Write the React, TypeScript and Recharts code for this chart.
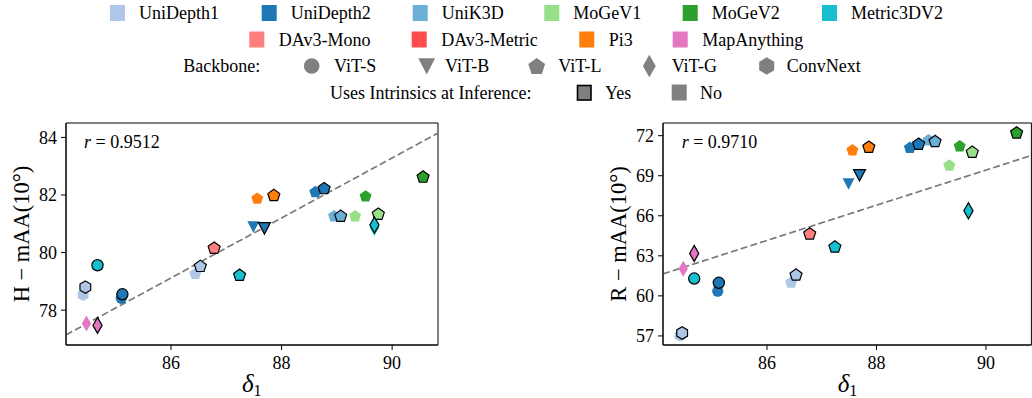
import React from 'react';
import { ScatterChart, Scatter, XAxis, YAxis, ReferenceLine, ReferenceArea } from 'recharts';

const FONT = '"Liberation Serif", "Times New Roman", serif';

const modelNames = ['UniDepth1', 'UniDepth2', 'UniK3D', 'MoGeV1', 'MoGeV2', 'Metric3DV2', 'DAv3-Mono', 'DAv3-Metric', 'Pi3', 'MapAnything'];
const modelColors = ['#aec7e8', '#1f77b4', '#6baed6', '#98df8a', '#2ca02c', '#17becf', '#ff7f7f', '#ff4c4c', '#ff7f0e', '#e377c2'];
const backbones = ['ViT-S', 'ViT-B', 'ViT-L', 'ViT-G', 'ConvNext'];

// one entry per model run; "No" runs are drawn first, "Yes" runs (black edge) on top
const pointModel = [
  'UniDepth1', 'UniDepth1', 'UniDepth2', 'MapAnything', 'UniDepth2', 'Pi3', 'UniDepth2', 'UniK3D', 'MoGeV1', 'MoGeV2', 'Metric3DV2',
  'UniDepth1', 'UniDepth1', 'Metric3DV2', 'UniDepth2', 'MapAnything', 'DAv3-Mono', 'Metric3DV2', 'UniDepth2', 'Pi3', 'UniDepth2', 'UniK3D', 'MoGeV1', 'MoGeV2', 'Metric3DV2',
];
const pointBackbone = [
  'ConvNext', 'ViT-L', 'ViT-S', 'ViT-G', 'ViT-B', 'ViT-L', 'ViT-L', 'ViT-L', 'ViT-L', 'ViT-L', 'ViT-G',
  'ConvNext', 'ViT-L', 'ViT-S', 'ViT-S', 'ViT-G', 'ViT-L', 'ViT-L', 'ViT-B', 'ViT-L', 'ViT-L', 'ViT-L', 'ViT-L', 'ViT-L', 'ViT-G',
];
const pointIntrinsics = [
  'No', 'No', 'No', 'No', 'No', 'No', 'No', 'No', 'No', 'No', 'No',
  'Yes', 'Yes', 'Yes', 'Yes', 'Yes', 'Yes', 'Yes', 'Yes', 'Yes', 'Yes', 'Yes', 'Yes', 'Yes', 'Yes',
];
const delta1 = [
  84.41, 86.44, 85.10, 84.47, 87.49, 87.56, 88.61, 88.95, 89.33, 89.52, 89.68,
  84.45, 86.53, 84.67, 85.12, 84.67, 86.78, 87.24, 87.69, 87.86, 88.77, 89.07, 89.75, 90.56, 89.68,
];
const hMAA = [
  78.53, 79.28, 78.41, 77.54, 80.90, 81.89, 82.12, 81.28, 81.28, 81.97, 80.86,
  78.80, 79.54, 79.56, 78.55, 77.47, 80.17, 79.23, 80.85, 82.00, 82.24, 81.28, 81.35, 82.64, 80.96,
];
const rMAA = [
  57.02, 61.03, 60.35, 62.03, 68.40, 70.95, 71.13, 71.70, 69.80, 71.25, 66.30,
  57.22, 61.60, 61.30, 60.98, 63.18, 64.68, 63.70, 69.05, 71.18, 71.40, 71.60, 70.80, 72.25, 66.38,
];

const xDomain = [84.1, 90.83];
const xTicks = [86, 88, 90];
const hDomain = [76.79, 84.5];
const hTicks = [78, 80, 82, 84];
const rDomain = [56.32, 72.95];
const rTicks = [57, 60, 63, 66, 69, 72];
const fitX = [84.1, 90.83];
const fitH = [77.14, 84.15];
const fitR = [61.65, 70.52];
const rValues = ['0.9512', '0.9710'];

const colorOf = (m: string) => modelColors[modelNames.indexOf(m)];

function regular(n: number, R: number, cx: number, cy: number) {
  const pts: string[] = [];
  for (let k = 0; k < n; k++) {
    const a = ((-90 + (360 / n) * k) * Math.PI) / 180;
    pts.push(`${cx + R * Math.cos(a)},${cy + R * Math.sin(a)}`);
  }
  return pts.join(' ');
}

function Marker({ cx, cy, kind, fill, edge, s = 1 }: any) {
  const stroke = edge ? '#000' : 'none';
  const sw = edge ? 1.2 : 0;
  if (kind === 'ViT-S') return <circle cx={cx} cy={cy} r={5.6 * s} fill={fill} stroke={stroke} strokeWidth={sw} />;
  let pts = '';
  if (kind === 'ViT-B') pts = `${cx - 6 * s},${cy - 5.5 * s} ${cx + 6 * s},${cy - 5.5 * s} ${cx},${cy + 6 * s}`;
  else if (kind === 'ViT-G') pts = `${cx},${cy - 8 * s} ${cx + 4.6 * s},${cy} ${cx},${cy + 8 * s} ${cx - 4.6 * s},${cy}`;
  else if (kind === 'ViT-L') pts = regular(5, 6.3 * s, cx, cy + 0.6 * s);
  else pts = regular(6, 6.2 * s, cx, cy);
  return <polygon points={pts} fill={fill} stroke={stroke} strokeWidth={sw} strokeLinejoin="miter" />;
}

function buildData(ys: number[], flag: string) {
  return delta1
    .map((x, i) => ({ x, y: ys[i], model: pointModel[i], backbone: pointBackbone[i], flag: pointIntrinsics[i] }))
    .filter((d) => d.flag === flag);
}

const tickStyle = { fontSize: 18, fill: '#000', fontFamily: FONT };

function Panel({ ys, yDomain, yTicks, fitY, left, marginLeft, width }: any) {
  const noData = buildData(ys, 'No');
  const yesData = buildData(ys, 'Yes');
  return (
    <div style={{ position: 'absolute', left, top: 0 }}>
      <ScatterChart width={width} height={398} margin={{ top: 123, right: width - marginLeft - 50 - 372 + (left > 0 ? 3.6 : 0), bottom: 23, left: marginLeft }}>
        <XAxis type="number" dataKey="x" domain={xDomain} ticks={xTicks} allowDataOverflow tick={tickStyle}
          tickSize={5} tickMargin={6} stroke="#000" height={30} />
        <YAxis type="number" dataKey="y" domain={yDomain} ticks={yTicks} allowDataOverflow tick={tickStyle}
          tickSize={5} tickMargin={4} stroke="#000" width={50} />
        <ReferenceArea x1={xDomain[0]} x2={xDomain[1]} y1={yDomain[0]} y2={yDomain[1]} fill="none" fillOpacity={0} stroke="#000" strokeWidth={1} />
        <ReferenceLine segment={[{ x: fitX[0], y: fitY[0] }, { x: fitX[1], y: fitY[1] }]} stroke="#7a7a7a" strokeWidth={1.7} strokeDasharray="7 3.2" />
        <Scatter data={noData} isAnimationActive={false}
          shape={(p: any) => <Marker cx={p.cx} cy={p.cy} kind={p.payload.backbone} fill={colorOf(p.payload.model)} edge={false} />} />
        <Scatter data={yesData} isAnimationActive={false}
          shape={(p: any) => <Marker cx={p.cx} cy={p.cy} kind={p.payload.backbone} fill={colorOf(p.payload.model)} edge />} />
      </ScatterChart>
    </div>
  );
}

const row1 = modelNames.slice(0, 6);
const row1X = [110, 261.7, 412.7, 544.3, 682.7, 822];
const row2 = modelNames.slice(6);
const row2X = [249.3, 411.7, 579.3, 672.7];
const backboneMarkerX = [311.7, 426.7, 536.7, 649.3, 766.7];
const backboneTextX = [334, 445, 558.3, 671.7, 786.7];

function Overlay() {
  const t = { fontFamily: FONT, fontSize: 18, fill: '#000' };
  return (
    <svg width={1032} height={398} style={{ position: 'absolute', left: 0, top: 0, pointerEvents: 'none' }}>
      {row1.map((m, i) => (
        <g key={m}>
          <rect x={row1X[i]} y={5} width={15} height={16} fill={colorOf(m)} />
          <text x={row1X[i] + 29} y={19} {...t}>{m}</text>
        </g>
      ))}
      {row2.map((m, i) => (
        <g key={m}>
          <rect x={row2X[i]} y={31.5} width={15} height={16} fill={colorOf(m)} />
          <text x={row2X[i] + 29.5} y={45.5} {...t}>{m}</text>
        </g>
      ))}
      <text x={183.3} y={72} {...t}>Backbone:</text>
      {backbones.map((b, i) => (
        <g key={b}>
          <Marker cx={backboneMarkerX[i]} cy={66} kind={b} fill="#808080" edge={false} s={1.4} />
          <text x={backboneTextX[i]} y={72} {...t}>{b}</text>
        </g>
      ))}
      <text x={330} y={98.5} {...t}>Uses Intrinsics at Inference:</text>
      <rect x={577.5} y={85.5} width={13.5} height={14.5} fill="#808080" stroke="#000" strokeWidth={1.6} />
      <text x={605} y={98.5} {...t}>Yes</text>
      <rect x={671.7} y={84.5} width={15} height={16} fill="#808080" />
      <text x={700} y={98.5} {...t}>No</text>

      <text x={84} y={148} {...t}><tspan fontStyle="italic">r</tspan> = {rValues[0]}</text>
      <text x={681.7} y={148} {...t}><tspan fontStyle="italic">r</tspan> = {rValues[1]}</text>

      <text transform="rotate(-90 21.7 234)" x={21.7} y={234} textAnchor="middle" dominantBaseline="central"
        fontFamily={FONT} fontSize={22.5} fill="#000">H − mAA(10°)</text>
      <text transform="rotate(-90 618 234)" x={618} y={234} textAnchor="middle" dominantBaseline="central"
        fontFamily={FONT} fontSize={22.5} fill="#000">R − mAA(10°)</text>

      <text x={251.7} y={392} textAnchor="middle" fontFamily={FONT} fontSize={25} fill="#000">
        <tspan fontStyle="italic">δ</tspan><tspan fontSize={16} dy={4}>1</tspan>
      </text>
      <text x={847.5} y={392} textAnchor="middle" fontFamily={FONT} fontSize={25} fill="#000">
        <tspan fontStyle="italic">δ</tspan><tspan fontSize={16} dy={4}>1</tspan>
      </text>
    </svg>
  );
}

export default function App() {
  return (
    <div style={{ position: 'relative', width: 1032, height: 398, overflow: 'hidden', background: '#fff' }}>
      <style>{'body{margin:0}'}</style>
      <Panel ys={hMAA} yDomain={hDomain} yTicks={hTicks} fitY={fitH} left={0} marginLeft={16} width={460} />
      <Panel ys={rMAA} yDomain={rDomain} yTicks={rTicks} fitY={fitR} left={560} marginLeft={53} width={480} />
      <Overlay />
    </div>
  );
}
